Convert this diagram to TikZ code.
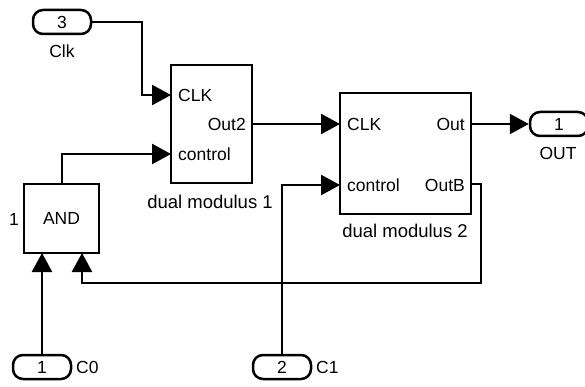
\documentclass[tikz,border=0pt]{standalone}
\usepackage{fontspec}
\setmainfont{Liberation Sans}
\usetikzlibrary{arrows.meta}
\begin{document}
\begin{tikzpicture}[x=1pt,y=-1pt,
  wire/.style={line width=2.5pt},
  sig/.style={wire,-{Triangle[length=19pt,width=20pt]}},
  blk/.style={draw,line width=2.5pt,inner sep=0pt},
  port/.style={draw,line width=2.5pt,rounded corners=10pt,minimum width=58pt,minimum height=24pt,inner sep=0pt,font=\fontsize{17.5}{20}\selectfont},
  lbl/.style={inner sep=0pt,font=\fontsize{17.5}{20}\selectfont},
  blkname/.style={inner sep=0pt,font=\fontsize{18.5}{22}\selectfont}]
\useasboundingbox (0,0) rectangle (585,387);
\clip (0,0) rectangle (585,387);
% blocks
\node[blk,minimum width=81pt,minimum height=118pt] (dm1) at (211.5,124) {};
\node[blk,minimum width=131pt,minimum height=121pt] (dm2) at (405.5,153.5) {};
\node[blk,minimum width=75pt,minimum height=69pt,lbl] (and) at (61.5,218.5) {AND};
% ports
\node[port] (p3) at (62,22) {3};
\node[port] (p1) at (42,367) {1};
\node[port] (p2) at (282,367) {2};
\node[port] (pout) at (559,124) {1};
% labels
\node[lbl] (clk) at (62,51) {Clk};
\node[lbl,anchor=west] (c0) at (76,367) {C0};
\node[lbl,anchor=west] (c1) at (316,367) {C1};
\node[lbl] (outl) at (558,153) {OUT};
\node[lbl] (one) at (14,219) {1};
\node[blkname] (n1) at (210,202) {dual modulus 1};
\node[blkname] (n2) at (405,231) {dual modulus 2};
% port labels inside blocks
\node[lbl,anchor=west] (t1) at (178,95) {CLK};
\node[lbl,anchor=east] (t2) at (246,124) {Out2};
\node[lbl,anchor=west] (t3) at (178,154) {control};
\node[lbl,anchor=west] (t4) at (347,124) {CLK};
\node[lbl,anchor=east] (t5) at (465,124) {Out};
\node[lbl,anchor=west] (t6) at (347,185) {control};
\node[lbl,anchor=east] (t7) at (465,185) {OutB};
% port coordinates
\coordinate (dm1clk) at (171,95);
\coordinate (dm1ctl) at (171,154);
\coordinate (dm1out) at (252,124);
\coordinate (dm2clk) at (340,124);
\coordinate (dm2ctl) at (340,185);
\coordinate (dm2out) at (471,124);
\coordinate (dm2outb) at (471,184);
\coordinate (andin1) at (42,253);
\coordinate (andin2) at (82,253);
\coordinate (andout) at (62,184);
% connectors
\draw[sig] (p3.east) -| (142,95) -- (dm1clk);
\draw[sig] (andout) |- (dm1ctl);
\draw[sig] (dm1out) -- (dm2clk);
\draw[sig] (p2.north) |- (dm2ctl);
\draw[sig] (dm2out) -- (pout.west);
\draw[sig] (p1.north) -- (andin1);
\draw[sig] (dm2outb) -- (481,184) -- (481,283) -| (andin2);
\end{tikzpicture}
\end{document}
